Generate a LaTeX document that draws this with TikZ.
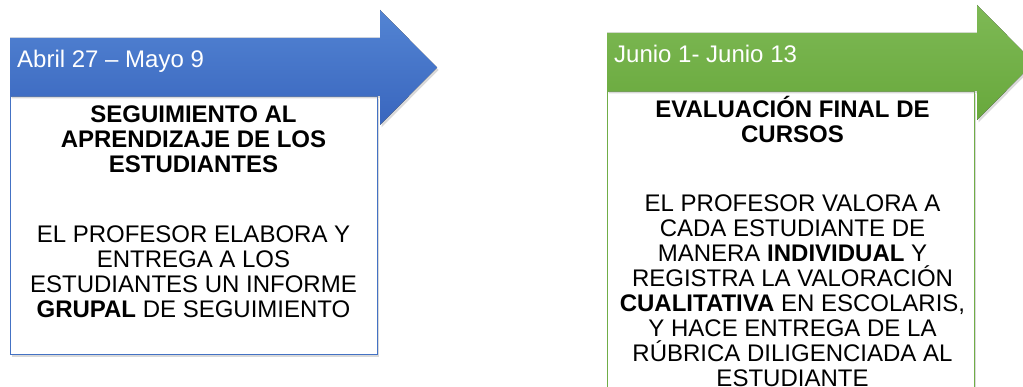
\documentclass[tikz,border=0pt]{standalone}
\usepackage{fontspec}
\setmainfont{Liberation Sans}
\usepackage{tikz}
\usetikzlibrary{shadows}
\definecolor{AzulArriba}{HTML}{5384D3}
\definecolor{AzulAbajo}{HTML}{3966BE}
\definecolor{AzulBorde}{HTML}{4472C4}
\definecolor{VerdeArriba}{HTML}{7EB955}
\definecolor{VerdeAbajo}{HTML}{68A83C}
\definecolor{VerdeBorde}{HTML}{70AD47}
\tikzset{
  flecha/.style={% Style for the arrow of each period
      draw=none,
      drop shadow={opacity=.3, shadow xshift=1.5pt, shadow yshift=-2.5pt},
  },
  caja/.style={% Style for the white box under the arrow
      rectangle, line width=1.2pt,
      anchor=north west,
      inner sep=0pt,
      minimum width=367pt,
      fill=white,
      drop shadow={opacity=.3, shadow xshift=1.5pt, shadow yshift=-2.5pt},
  },
  fecha/.style={% Style for the dates, white on the arrow
      anchor=base west,
      inner sep=0pt,
      text=white,
      font=\fontsize{24}{25}\selectfont,
  },
  titulo/.style={% Style for the bold titles (base = last line)
      anchor=base,
      align=center,
      inner sep=0pt,
      font=\fontsize{24}{25}\selectfont\bfseries,
  },
  texto/.style={% Style for the normal text (base = last line)
      anchor=base,
      align=center,
      inner sep=0pt,
      font=\fontsize{24}{25}\selectfont,
  },
}
\def\etapa(#1)#2#3[#4]#5{%
  \begin{scope}[shift={(#1)}]
      \node[caja, draw=#2Borde, minimum height=#3pt] (caja#5) at (0,58) {}; % box first, arrow on top
      \fill[flecha, top color=#2Arriba, bottom color=#2Abajo]
        (0,0) -- (370,0) -- (370,-28) -- (427,29.5) -- (370,87) -- (370,58) -- (0,58) -- cycle;
      \node[fecha] (fecha#5) at (7,30) {#4};
  \end{scope}
}

\begin{document}
\begin{tikzpicture}[x=1pt, y=-1pt]
    \useasboundingbox (0,0) rectangle (1023,387);
    \etapa(10,38){Azul}{258}[Abril 27 – Mayo 9]{A}
    \etapa(607,33){Verde}{320}[Junio 1- Junio 13]{B}
    % texts of the first period
    \node[titulo] (tituloA) at (193.5,173) {SEGUIMIENTO AL\\APRENDIZAJE DE LOS\\ESTUDIANTES};
    \node[texto] (textoA) at (193.5,318) {EL PROFESOR ELABORA Y\\ENTREGA A LOS\\ESTUDIANTES UN INFORME\\\textbf{GRUPAL} DE SEGUIMIENTO};
    % texts of the second period
    \node[titulo] (tituloB) at (792.5,143) {EVALUACIÓN FINAL DE\\CURSOS};
    \node[texto] (textoB) at (792.5,386) {EL PROFESOR VALORA A\\CADA ESTUDIANTE DE\\MANERA \textbf{INDIVIDUAL} Y\\REGISTRA LA VALORACIÓN\\\textbf{CUALITATIVA} EN ESCOLARIS,\\Y HACE ENTREGA DE LA\\RÚBRICA DILIGENCIADA AL\\ESTUDIANTE};
\end{tikzpicture}
\end{document}
